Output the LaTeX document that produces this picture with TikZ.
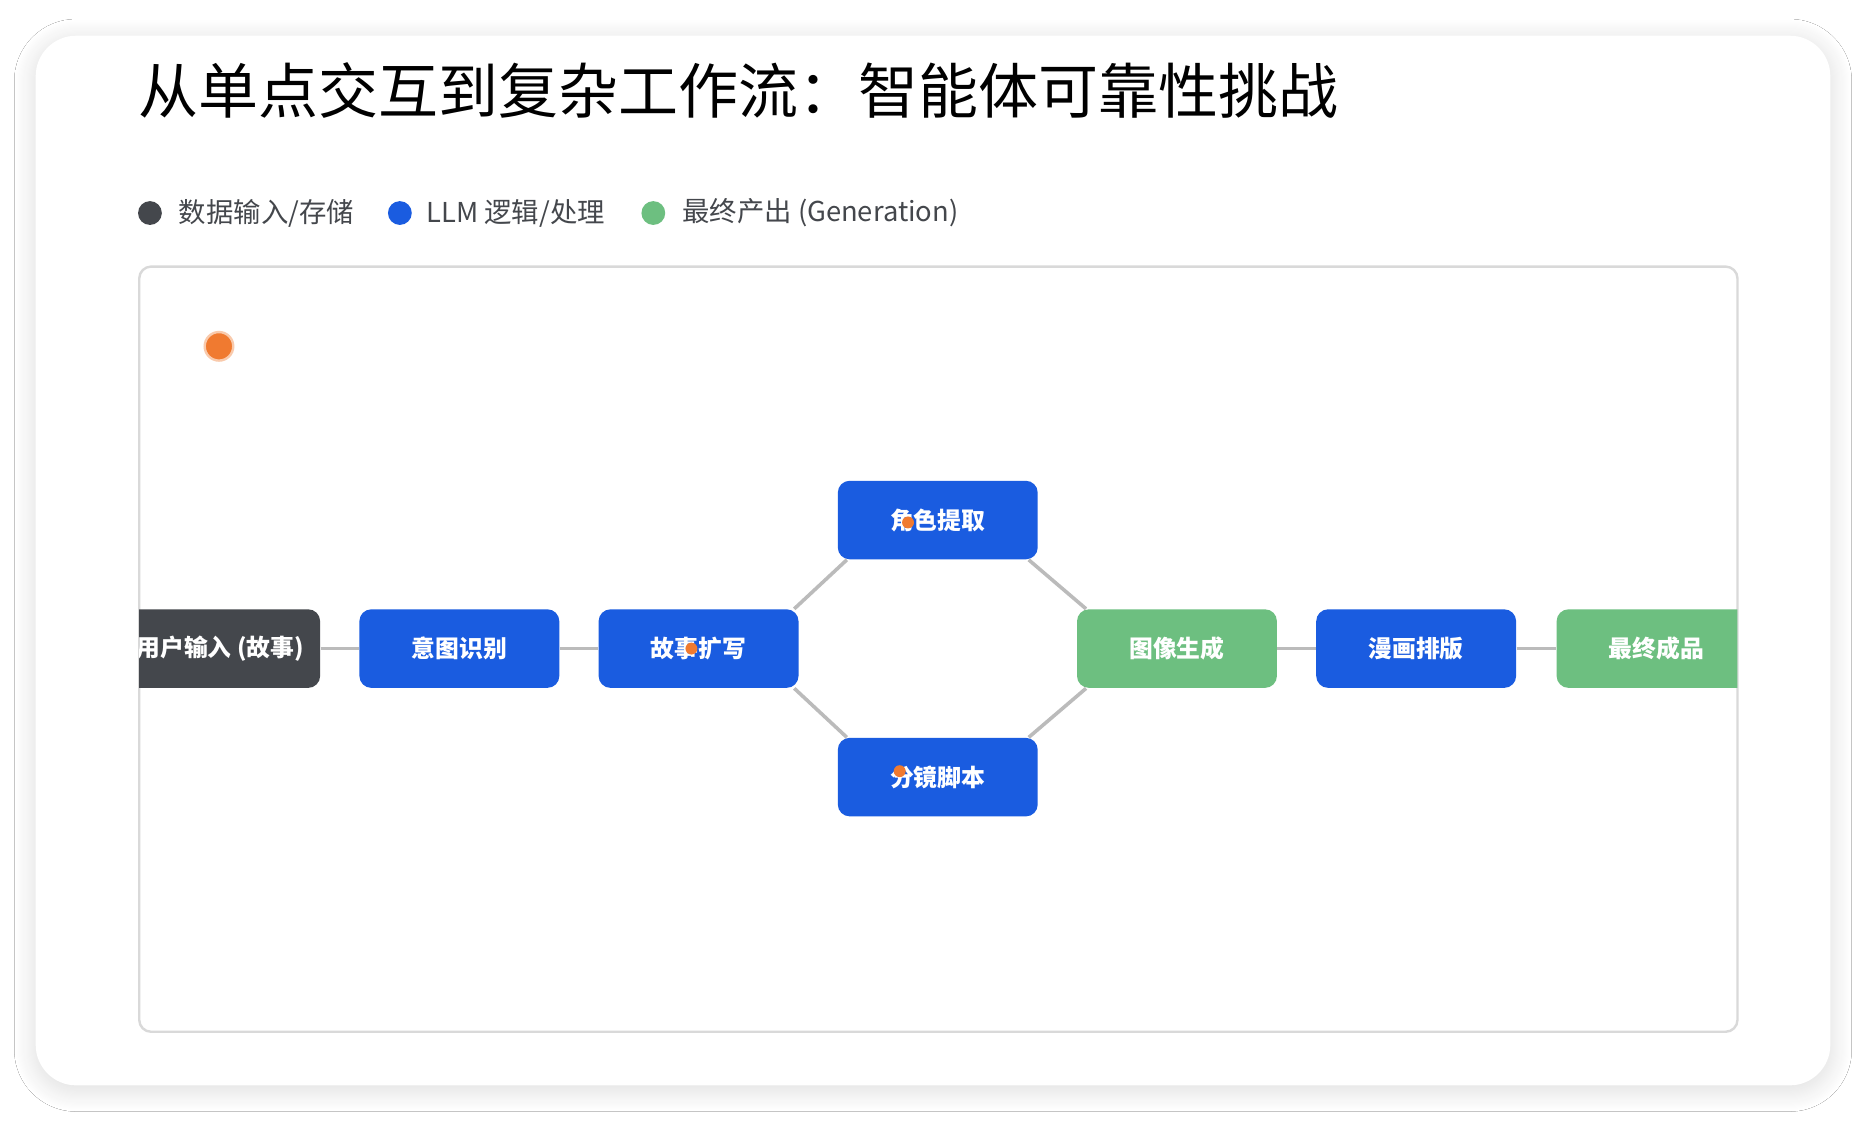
\documentclass[tikz,border=0pt]{standalone}
\usepackage{fontspec}
\setmainfont{Noto Sans CJK SC}
\usetikzlibrary{shadows.blur}
\definecolor{dg}{HTML}{44474C}
\definecolor{bl}{HTML}{1A5CE0}
\definecolor{gr}{HTML}{6DBF80}
\definecolor{og}{HTML}{F07A30}
\definecolor{ed}{HTML}{BBBBBB}
\tikzset{
 nd/.style={rounded corners=5pt,minimum width=84pt,minimum height=33pt,text=white,font=\fontsize{10}{12}\selectfont\bfseries,inner sep=0pt},
 ln/.style={draw=ed,line width=1.5pt},
 dot/.style={circle,fill=og,inner sep=0pt,minimum size=5pt},
 lg/.style={circle,inner sep=0pt,minimum size=10pt},
 lt/.style={anchor=west,font=\fontsize{11.5}{13}\selectfont,text=dg,inner sep=0pt}
}
\begin{document}
\begin{tikzpicture}[x=0.5pt,y=-0.5pt]
\useasboundingbox (0,0) rectangle (1568,943);
\fill[white] (0,0) rectangle (1568,943);
\node[draw=none,fill=white,rounded corners=17pt,minimum width=754pt,minimum height=441pt,blur shadow={shadow xshift=0pt,shadow yshift=-2pt,shadow blur radius=9pt,shadow blur steps=20,shadow opacity=14}] (card) at (784,471) {};
\node[anchor=base west,inner sep=0pt,font=\fontsize{25.2}{28}\selectfont] (title) at (116,95) {从单点交互到复杂工作流：智能体可靠性挑战};
\node[lg,fill=dg] (l1) at (126,179) {};
\node[lt] (t1) at (150,179) {数据输入/存储};
\node[lg,fill=bl] (l2) at (336,179) {};
\node[lt] (t2) at (358,179) {LLM 逻辑/处理};
\node[lg,fill=gr] (l3) at (549,179) {};
\node[lt] (t3) at (573,179) {最终产出 (Generation)};
\draw[draw=black!15,line width=1pt,rounded corners=5pt] (117,224) rectangle (1460,867);
\begin{scope}
\clip[rounded corners=5pt] (117,224) rectangle (1460,867);
\node[nd,fill=dg] (a) at (185,545) {用户输入 (故事)};
\node[nd,fill=bl] (b) at (386,545) {意图识别};
\node[nd,fill=bl] (c) at (587,545) {故事扩写};
\node[nd,fill=bl] (d) at (788,437) {角色提取};
\node[nd,fill=bl] (e) at (788,653) {分镜脚本};
\node[nd,fill=gr] (f) at (989,545) {图像生成};
\node[nd,fill=bl] (g) at (1190,545) {漫画排版};
\node[nd,fill=gr] (h) at (1392,545) {最终成品};
\draw[ln] (a.east) -- (b.west);
\draw[ln] (b.east) -- (c.west);
\draw[ln] ([xshift=-2pt]c.north east) -- ([xshift=4pt]d.south west);
\draw[ln] ([xshift=-2pt]c.south east) -- ([xshift=4pt]e.north west);
\draw[ln] ([xshift=-4pt]d.south east) -- ([xshift=4pt]f.north west);
\draw[ln] ([xshift=-4pt]e.north east) -- ([xshift=4pt]f.south west);
\draw[ln] (f.east) -- (g.west);
\draw[ln] (g.east) -- (h.west);
\node[dot] (p1) at (763,439) {};
\node[dot] (p2) at (581,545) {};
\node[dot] (p3) at (756,648) {};
\node[circle,fill=og,draw=og!40,line width=1pt,minimum size=12pt,inner sep=0pt] (p0) at (184,291) {};
\end{scope}
\end{tikzpicture}
\end{document}
